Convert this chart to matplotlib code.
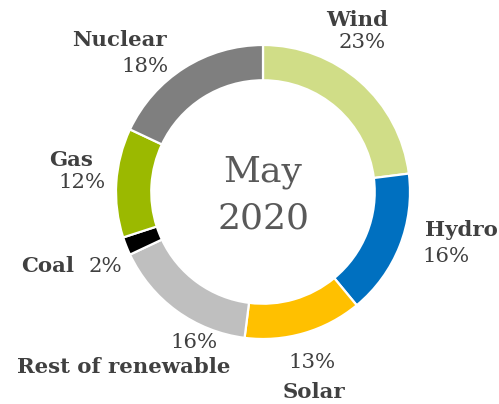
import matplotlib
matplotlib.use("Agg")
import matplotlib.pyplot as plt

# 数据
sources = ["Wind", "Hydro", "Solar", "Rest of renewable", "Coal", "Gas", "Nuclear"]
shares = [23, 16, 13, 16, 2, 12, 18]
colors = ["#d0dd87", "#0070c0", "#ffc000", "#bfbfbf", "#000000", "#9bb900", "#7f7f7f"]
center_text = "May\n2020"

W, H = 499, 404
cx, cy, r = 263, 192, 147   # 圆心与半径（像素）

fig = plt.figure(figsize=(W / 100, H / 100), dpi=100)
ax = fig.add_axes([(cx - r) / W, (H - cy - r) / H, 2 * r / W, 2 * r / H])

ax.pie(shares, colors=colors, startangle=90, counterclock=False, radius=1,
       wedgeprops=dict(width=0.24, edgecolor="white", linewidth=1.6))
ax.set_xlim(-1, 1)
ax.set_ylim(-1, 1)
ax.set_aspect("auto")
ax.axis("off")

fam = ["DejaVu Serif"]
lab_col = "#404040"
fs = 15.3


def px(x, y):
    # 像素坐标 -> 数据坐标
    return (x - cx) / r, (cy - y) / r


def label(x, y, s, bold=True, ha="center"):
    ax.text(*px(x, y), s, ha=ha, va="center", fontsize=fs, family=fam,
            fontweight="bold" if bold else "normal", color=lab_col, clip_on=False)


# 标签位置（像素）
label(357, 20, sources[0])
label(362, 43, f"{shares[0]}%", bold=False)
label(498, 230, sources[1], ha="right")
label(446, 256, f"{shares[1]}%", bold=False)
label(314, 392, sources[2])
label(312, 362, f"{shares[2]}%", bold=False)
label(124, 367, sources[3])
label(194, 342, f"{shares[3]}%", bold=False)
label(21, 266, sources[4], ha="left")
label(122, 266, f"{shares[4]}%", bold=False, ha="right")
label(93, 160, sources[5], ha="right")
label(106, 183, f"{shares[5]}%", bold=False, ha="right")
label(167, 40, sources[6], ha="right")
label(169, 67, f"{shares[6]}%", bold=False, ha="right")

ax.text(0, px(0, 195)[1], center_text, ha="center", va="center", fontsize=26,
        family=fam, color="#595959", linespacing=1.45)

fig.savefig("out.png", dpi=100)
